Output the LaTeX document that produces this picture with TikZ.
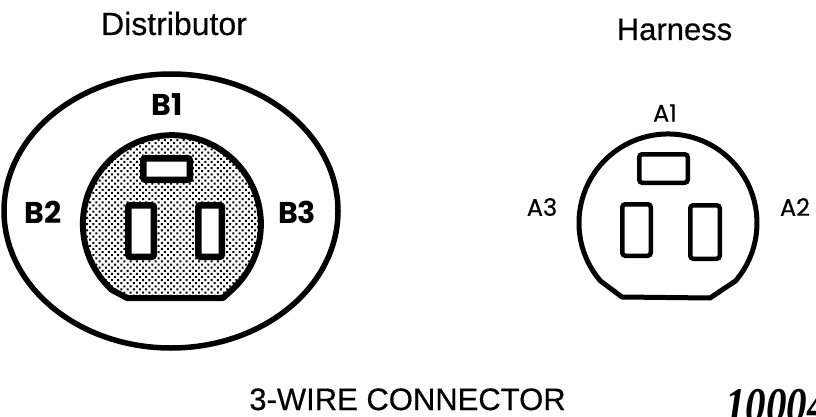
\documentclass[tikz,border=0pt]{standalone}
\usepackage{fontspec}
\setmainfont[FakeBold=0.4]{Liberation Sans}
\newfontfamily\labelfont{Poppins}
\newfontfamily\thinfont[FakeBold=0.5]{Poppins}
\newfontfamily\stampfont{Liberation Serif}
\usetikzlibrary{patterns.meta}
\tikzset{
  x=1pt,y=-1pt,
  outline/.style={draw=black,line width=5.5pt,line join=round},
  slot/.style={draw=black,fill=white,line width=6.5pt,rounded corners=2pt,inner sep=0pt},
  hslot/.style={draw=black,fill=white,line width=4.5pt,rounded corners=3pt,inner sep=0pt},
  title/.style={font=\fontsize{32}{36}\selectfont,inner sep=0pt,anchor=base},
  boldlabel/.style={font=\labelfont\bfseries\fontsize{30}{34}\selectfont,inner sep=0pt},
  thinlabel/.style={font=\thinfont\fontsize{24}{26}\selectfont,inner sep=0pt},
}
\begin{document}
\begin{tikzpicture}
\useasboundingbox (0,0) rectangle (816,417);
\clip (0,0) rectangle (816,417);
% Distributor
\draw[outline] (171,211) ellipse [x radius=167,y radius=137];
\path[fill=white,postaction={pattern={Dots[radius=1.4pt,distance=4.4pt,angle=45]},pattern color=black}]
  (112,290) arc[start angle=132.3,end angle=407.7,radius=89] -- (223,298) -- (127,298) -- cycle;
\draw[line width=6pt,line join=round]
  (112,290) arc[start angle=132.3,end angle=407.7,radius=89] -- (223,298) -- (127,298) -- cycle;
\node[slot,minimum width=46.5pt,minimum height=21.5pt] (b1slot) at (166.5,169) {};
\node[slot,minimum width=25.5pt,minimum height=51.5pt] (b2slot) at (141,231) {};
\node[slot,minimum width=23.5pt,minimum height=51.5pt] (b3slot) at (210,231) {};
\node[boldlabel] (b1) at (167,105) {B1};
\node[boldlabel] (b2) at (43,212) {B2};
\node[boldlabel] (b3) at (297,212) {B3};
\node[title] (dist) at (174,35) {Distributor};
% Harness
\draw[line width=5pt,line join=round]
  (600.5,281) arc[start angle=139.3,end angle=400.7,radius=89] -- (710,298) -- (622,297) -- cycle;
\node[hslot,minimum width=48.5pt,minimum height=28.5pt] (a1slot) at (663.5,168.5) {};
\node[hslot,minimum width=28.5pt,minimum height=51.5pt] (a3slot) at (636.5,230) {};
\node[hslot,minimum width=29.5pt,minimum height=53.5pt] (a2slot) at (705,232) {};
\node[thinlabel] (a1) at (665,113) {A1};
\node[thinlabel] (a3) at (542,207) {A3};
\node[thinlabel] (a2) at (795,207) {A2};
\node[title,font=\fontsize{31}{36}\selectfont] (harn) at (674.5,40) {Harness};
% Caption
\node[title,font=\fontsize{31}{34}\selectfont] (cap) at (407.5,410) {3-WIRE CONNECTOR};
\node[inner sep=0pt,anchor=base west,xscale=0.82,font=\stampfont\bfseries\itshape\fontsize{50}{54}\selectfont] (num) at (725,422) {10004};
\end{tikzpicture}
\end{document}
